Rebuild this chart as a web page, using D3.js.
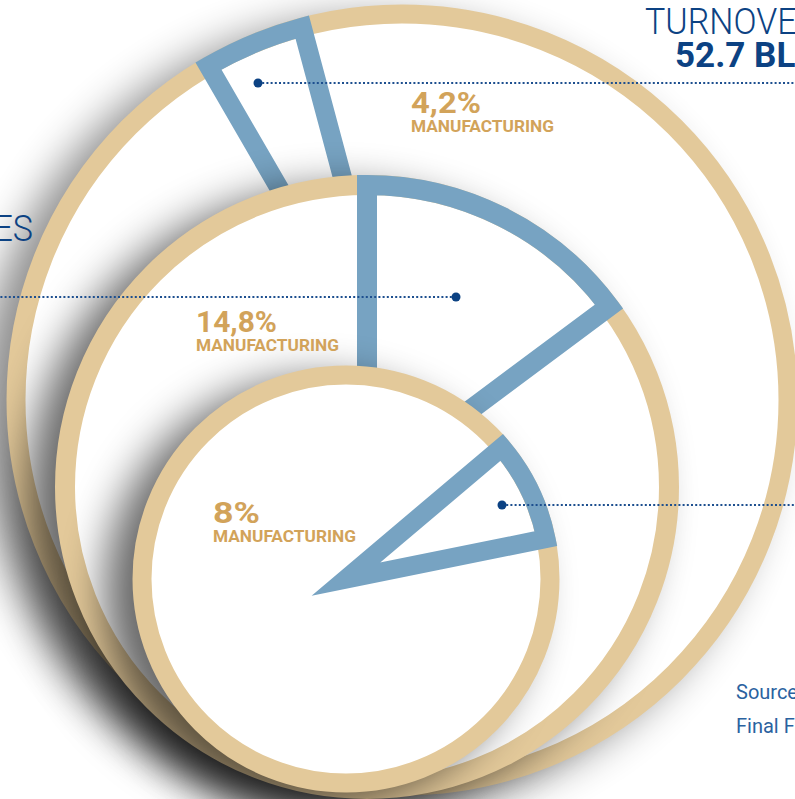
<!DOCTYPE html>
<html>
<head>
<meta charset="utf-8">
<script src="https://cdn.jsdelivr.net/npm/d3@7"></script>
<style>
  html, body { margin: 0; padding: 0; background: #fff; overflow: hidden; }
  svg { display: block; }
</style>
</head>
<body>
<div id="chart"></div>
<script>
// manufacturing share of each total, outer circle to inner circle
const groups = ["turnover", "employees", "enterprises"];
const shares = [4.2, 14.8, 8];
const shareLabels = ["4,2%", "14,8%", "8%"];
const sectorLabel = "MANUFACTURING";
const titleLines = ["TURNOVER", "52.7 BLN"];
const sideTitle = "EMPLOYEES";
const sourceLines = ["Source", "Final F"];

// layout of the circles (centre, radius, where the slice starts in degrees)
const layout = [
    { cx: 402, cy: 400, r: 386, sw: 19, start: -30.1, dot: [258, 83], lineTo: 795, label: [411, 113], pctW: 70 },
    { cx: 367, cy: 487, r: 302, sw: 20, start: 0, dot: [456, 297], lineTo: 0, label: [196, 332], pctW: 81 },
    { cx: 346, cy: 579, r: 204, sw: 19, start: 49.8, dot: [502, 505], lineTo: 795, label: [213, 523], pctW: 47 }
];

const tan = "#e3c99a";
const blue = "#77a3c2";
const gold = "#d2a35a";
const navy = "#0c4283";

const width = 795, height = 799;

const svg = d3.select("#chart")
    .append("svg")
    .attr("width", width)
    .attr("height", height);

const defs = svg.append("defs");
defs.append("filter")
    .attr("id", "shadow")
    .attr("x", "-50%").attr("y", "-50%")
    .attr("width", "200%").attr("height", "200%")
    .append("feGaussianBlur")
    .attr("stdDeviation", 22);

svg.append("rect")
    .attr("width", width)
    .attr("height", height)
    .attr("fill", "#fff");

// percent -> angle in radians
const angle = d3.scaleLinear().domain([0, 100]).range([0, 2 * Math.PI]);
const deg = d => d * Math.PI / 180;

const arc = d3.arc().innerRadius(0);

groups.forEach((g, i) => {
    const c = layout[i];
    const layer = svg.append("g").attr("class", g);

    // soft drop shadow of the whole disc
    layer.append("circle")
        .attr("cx", c.cx - 28)
        .attr("cy", c.cy + 14)
        .attr("r", c.r + c.sw / 2)
        .attr("fill", "#000")
        .attr("opacity", i === 0 ? 0.45 : 0.6)
        .attr("filter", "url(#shadow)");

    layer.append("circle")
        .attr("cx", c.cx)
        .attr("cy", c.cy)
        .attr("r", c.r)
        .attr("fill", "#fff")
        .attr("stroke", tan)
        .attr("stroke-width", c.sw);

    const a0 = deg(c.start);
    layer.append("path")
        .attr("transform", `translate(${c.cx},${c.cy})`)
        .attr("d", arc({ outerRadius: c.r, startAngle: a0, endAngle: a0 + angle(shares[i]) }))
        .attr("fill", "none")
        .attr("stroke", blue)
        .attr("stroke-width", c.sw)
        .attr("stroke-linejoin", "miter")
        .attr("stroke-miterlimit", 20);
});

// labels
const labels = svg.append("g").attr("class", "labels");

groups.forEach((g, i) => {
    const c = layout[i];
    labels.append("text")
        .attr("x", c.label[0])
        .attr("y", c.label[1])
        .attr("fill", gold)
        .attr("font-family", "Roboto, 'DejaVu Sans', sans-serif")
        .attr("font-weight", 700)
        .attr("font-size", 30)
        .attr("textLength", c.pctW)
        .attr("lengthAdjust", "spacingAndGlyphs")
        .text(shareLabels[i]);

    labels.append("text")
        .attr("x", c.label[0])
        .attr("y", c.label[1] + 19)
        .attr("fill", gold)
        .attr("font-family", "Roboto, 'DejaVu Sans', sans-serif")
        .attr("font-weight", 700)
        .attr("font-size", 17)
        .attr("textLength", 143)
        .attr("lengthAdjust", "spacingAndGlyphs")
        .text(sectorLabel);
});

// dotted leader lines with a dot in each slice
groups.forEach((g, i) => {
    const c = layout[i];
    labels.append("line")
        .attr("x1", c.dot[0])
        .attr("x2", c.lineTo)
        .attr("y1", c.dot[1])
        .attr("y2", c.dot[1])
        .attr("stroke", "#1d4f8f")
        .attr("stroke-width", 2)
        .attr("stroke-dasharray", "2,2.2");

    labels.append("circle")
        .attr("cx", c.dot[0])
        .attr("cy", c.dot[1])
        .attr("r", 4.5)
        .attr("fill", navy);
});

// titles, cut by the edge of the picture
svg.append("text")
    .attr("transform", "translate(645,34) scale(0.92,1)")
    .attr("fill", navy)
    .attr("font-family", "Roboto, 'DejaVu Sans', sans-serif")
    .attr("font-weight", 300)
    .attr("font-size", 37)
    .text(titleLines[0]);

svg.append("text")
    .attr("transform", "translate(675,67)")
    .attr("fill", navy)
    .attr("font-family", "Roboto, 'DejaVu Sans', sans-serif")
    .attr("font-weight", 700)
    .attr("font-size", 35)
    .text(titleLines[1]);

svg.append("text")
    .attr("transform", "translate(33,241) scale(0.92,1)")
    .attr("text-anchor", "end")
    .attr("fill", navy)
    .attr("font-family", "Roboto, 'DejaVu Sans', sans-serif")
    .attr("font-weight", 300)
    .attr("font-size", 37)
    .text(sideTitle);

sourceLines.forEach((s, i) => {
    svg.append("text")
        .attr("x", 736)
        .attr("y", 699 + i * 34)
        .attr("fill", "#2a62a0")
        .attr("font-family", "Roboto, 'DejaVu Sans', sans-serif")
        .attr("font-size", 20)
        .text(s);
});
</script>
</body>
</html>
